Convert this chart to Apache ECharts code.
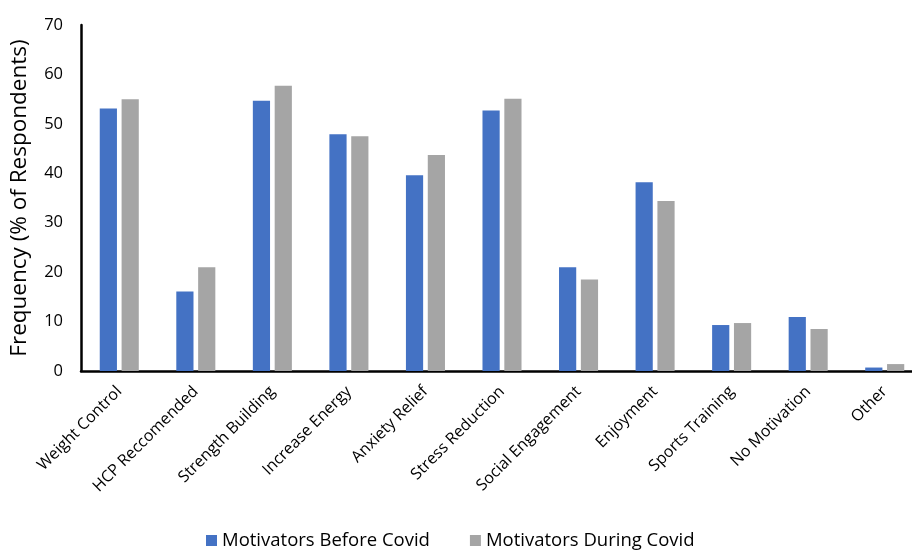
<!DOCTYPE html>
<html>
<head>
<meta charset="utf-8">
<script src="https://cdn.jsdelivr.net/npm/echarts@6/dist/echarts.min.js"></script>
<style>
  html, body { margin: 0; padding: 0; background: #fff; overflow: hidden; }
  #chart { width: 930px; height: 550px; }
</style>
</head>
<body>
<div id="chart"></div>
<script>
// Exercise motivators, % of respondents
const categories = [
  'Weight Control', 'HCP Reccomended', 'Strength Building', 'Increase Energy',
  'Anxiety Relief', 'Stress Reduction', 'Social Engagement', 'Enjoyment',
  'Sports Training', 'No Motivation', 'Other'
];
const beforeCovid = [53.1, 16.1, 54.7, 47.9, 39.6, 52.7, 21.0, 38.2, 9.3, 10.9, 0.7];
const duringCovid = [55.0, 21.0, 57.7, 47.5, 43.7, 55.1, 18.5, 34.4, 9.7, 8.5, 1.4];
const seriesNames = ['Motivators Before Covid', 'Motivators During Covid'];
const yTicks = { min: 0, max: 70, interval: 10 };

const FONT = 'Open Sans';
const chart = echarts.init(document.getElementById('chart'));
chart.setOption({
  animation: false,
  textStyle: { fontFamily: FONT },
  // plot area runs past the right edge of the visible page
  grid: { left: 80, top: 25, width: 843, bottom: 179, containLabel: false },
  legend: {
    top: 526,
    left: 201,
    itemWidth: 11,
    itemHeight: 11,
    itemGap: 40,
    icon: 'rect',
    textStyle: { fontFamily: FONT, fontSize: 18.5, color: '#000' },
    data: seriesNames
  },
  xAxis: {
    type: 'category',
    data: categories,
    axisLine: { lineStyle: { color: '#000', width: 2.5 } },
    axisTick: { show: false },
    axisLabel: {
      rotate: 45,
      interval: 0,
      margin: 18,
      fontSize: 16,
      color: '#000',
      fontFamily: FONT
    }
  },
  yAxis: {
    type: 'value',
    min: yTicks.min,
    max: yTicks.max,
    interval: yTicks.interval,
    name: 'Frequency (% of Respondents)',
    nameLocation: 'middle',
    nameGap: 50,
    nameTextStyle: { fontSize: 22.5, color: '#000', fontFamily: FONT },
    axisLine: { show: true, lineStyle: { color: '#000', width: 2.5 } },
    axisTick: { show: false },
    splitLine: { show: false },
    axisLabel: { fontSize: 16.5, color: '#000', margin: 18, fontFamily: FONT }
  },
  series: [
    {
      name: seriesNames[0],
      type: 'bar',
      data: beforeCovid,
      barGap: '27%',
      barCategoryGap: '49%',
      itemStyle: { color: '#4472C4' }
    },
    {
      name: seriesNames[1],
      type: 'bar',
      data: duringCovid,
      itemStyle: { color: '#A5A5A5' }
    }
  ]
});
</script>
</body>
</html>
